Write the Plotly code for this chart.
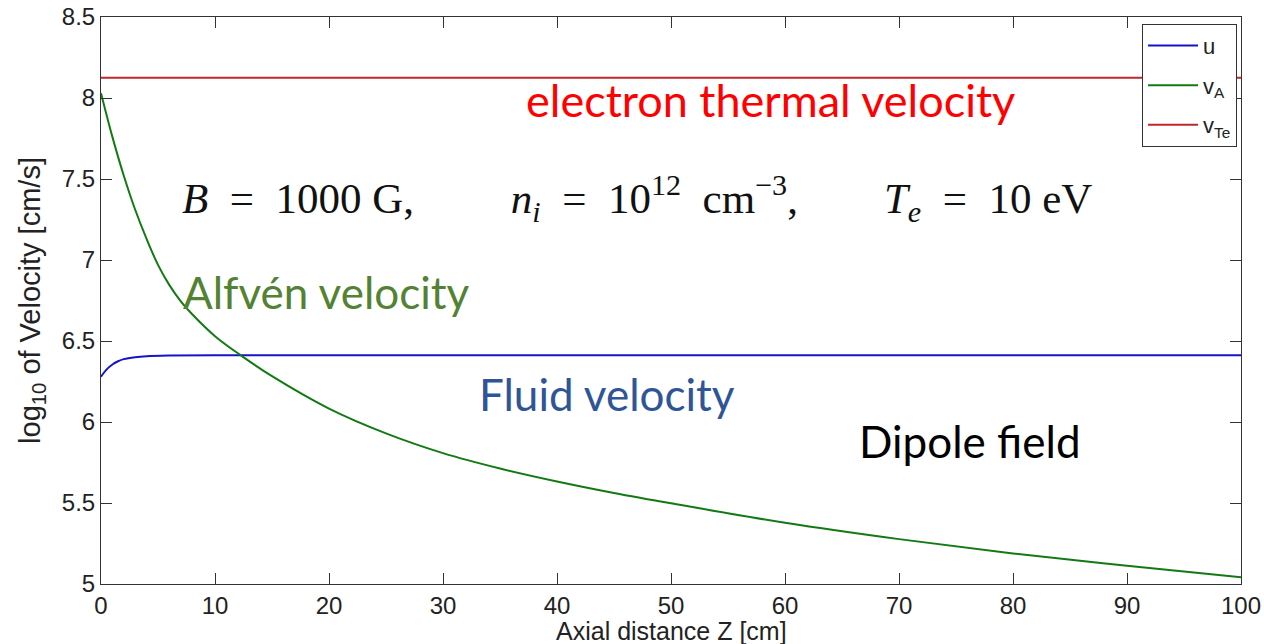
import plotly.graph_objects as go

# Axial distance Z [cm] and log10 velocities
z_alfven = [0, 1, 2, 3, 4, 5, 6, 7, 8, 10, 12.3, 15, 20, 25, 30, 35, 40, 45, 50, 60, 70, 80, 90, 100]
v_alfven = [8.03, 7.76, 7.52, 7.31, 7.13, 6.97, 6.845, 6.745, 6.665, 6.53, 6.41, 6.283, 6.083, 5.93,
            5.808, 5.713, 5.633, 5.562, 5.498, 5.378, 5.277, 5.188, 5.112, 5.041]

z_fluid = [0, 0.5, 1, 1.5, 2, 3, 4, 6, 10, 20, 100]
v_fluid = [6.28, 6.325, 6.355, 6.375, 6.388, 6.400, 6.406, 6.410, 6.412, 6.412, 6.412]

z_te = [0, 100]
v_te = [8.125, 8.125]

series_names = ["u", "v<sub>A</sub>", "v<sub>Te</sub>"]

fig = go.Figure()
fig.add_trace(go.Scatter(x=z_fluid, y=v_fluid, mode="lines", name=series_names[0], legendgroup="a",
                         line=dict(color="#1414C8", width=2, shape="spline")))
fig.add_trace(go.Scatter(x=z_alfven, y=v_alfven, mode="lines", name=series_names[1], legendgroup="b",
                         line=dict(color="#137A13", width=2, shape="spline")))
fig.add_trace(go.Scatter(x=z_te, y=v_te, mode="lines", name=series_names[2], legendgroup="c",
                         line=dict(color="#C0282D", width=2)))

sans = "Liberation Sans, Arial, sans-serif"
tick_font = dict(family=sans, size=24, color="#222")

fig.update_layout(
    width=1264, height=644,
    margin=dict(l=101, r=23, t=17, b=60),
    paper_bgcolor="white", plot_bgcolor="white",
    font=tick_font,
    showlegend=True,
    legend=dict(x=0.9965, y=0.988, xanchor="right", yanchor="top",
                bgcolor="white", bordercolor="#333", borderwidth=1,
                font=dict(family=sans, size=22, color="#222"),
                itemwidth=50, tracegroupgap=8),
    xaxis=dict(range=[0, 100], dtick=10, showgrid=False, zeroline=False, automargin=False,
               showline=True, linecolor="#333", linewidth=1, mirror="ticks",
               ticks="inside", ticklen=11, tickcolor="#333", tickfont=tick_font,
               ticklabeloverflow="allow"),
    yaxis=dict(range=[5, 8.5], dtick=0.5, showgrid=False, zeroline=False, automargin=False,
               showline=True, linecolor="#333", linewidth=1, mirror="ticks",
               ticks="inside", ticklen=11, tickcolor="#333", tickfont=tick_font,
               ticklabeloverflow="allow",
               title=dict(text="log<sub>10</sub> of Velocity [cm/s]", standoff=12,
                          font=dict(family=sans, size=29, color="#222"))),
)

# x-axis title placed just below the tick labels, as in the reference
fig.add_annotation(xref="paper", yref="paper", x=0.5, y=-0.083, xanchor="center", yanchor="middle",
                   text="Axial distance Z [cm]", showarrow=False,
                   font=dict(family=sans, size=25, color="#222"))

ann_font = "Lato, Open Sans, sans-serif"
sp = "&nbsp;"
fig.add_annotation(x=58.7, y=7.99, text="electron thermal velocity", showarrow=False,
                   font=dict(family=ann_font, size=45, color="#FF0000"))
fig.add_annotation(x=47.0, y=7.38,
                   text="<i>B</i>" + sp * 2 + "=" + sp * 2 + "1000 G," + sp * 9 +
                        "<i>n<sub>i</sub></i>" + sp * 2 + "=" + sp * 2 + "10<sup>12</sup>" + sp * 2 +
                        "cm<sup>\u22123</sup>," + sp * 8 +
                        "<i>T<sub>e</sub></i>" + sp * 2 + "=" + sp * 2 + "10 eV",
                   showarrow=False,
                   font=dict(family="Liberation Serif, DejaVu Serif, serif", size=43, color="#111"))
fig.add_annotation(x=19.8, y=6.80, text="Alfvén velocity", showarrow=False,
                   font=dict(family=ann_font, size=44, color="#548235"))
fig.add_annotation(x=44.4, y=6.17, text="Fluid velocity", showarrow=False,
                   font=dict(family=ann_font, size=44, color="#2F5597"))
fig.add_annotation(x=76.2, y=5.88, text="Dipole field", showarrow=False,
                   font=dict(family=ann_font, size=44, color="#000000"))

fig.write_html("out.html", config={"displayModeBar": False},
               post_script="document.body.style.margin='0';")
